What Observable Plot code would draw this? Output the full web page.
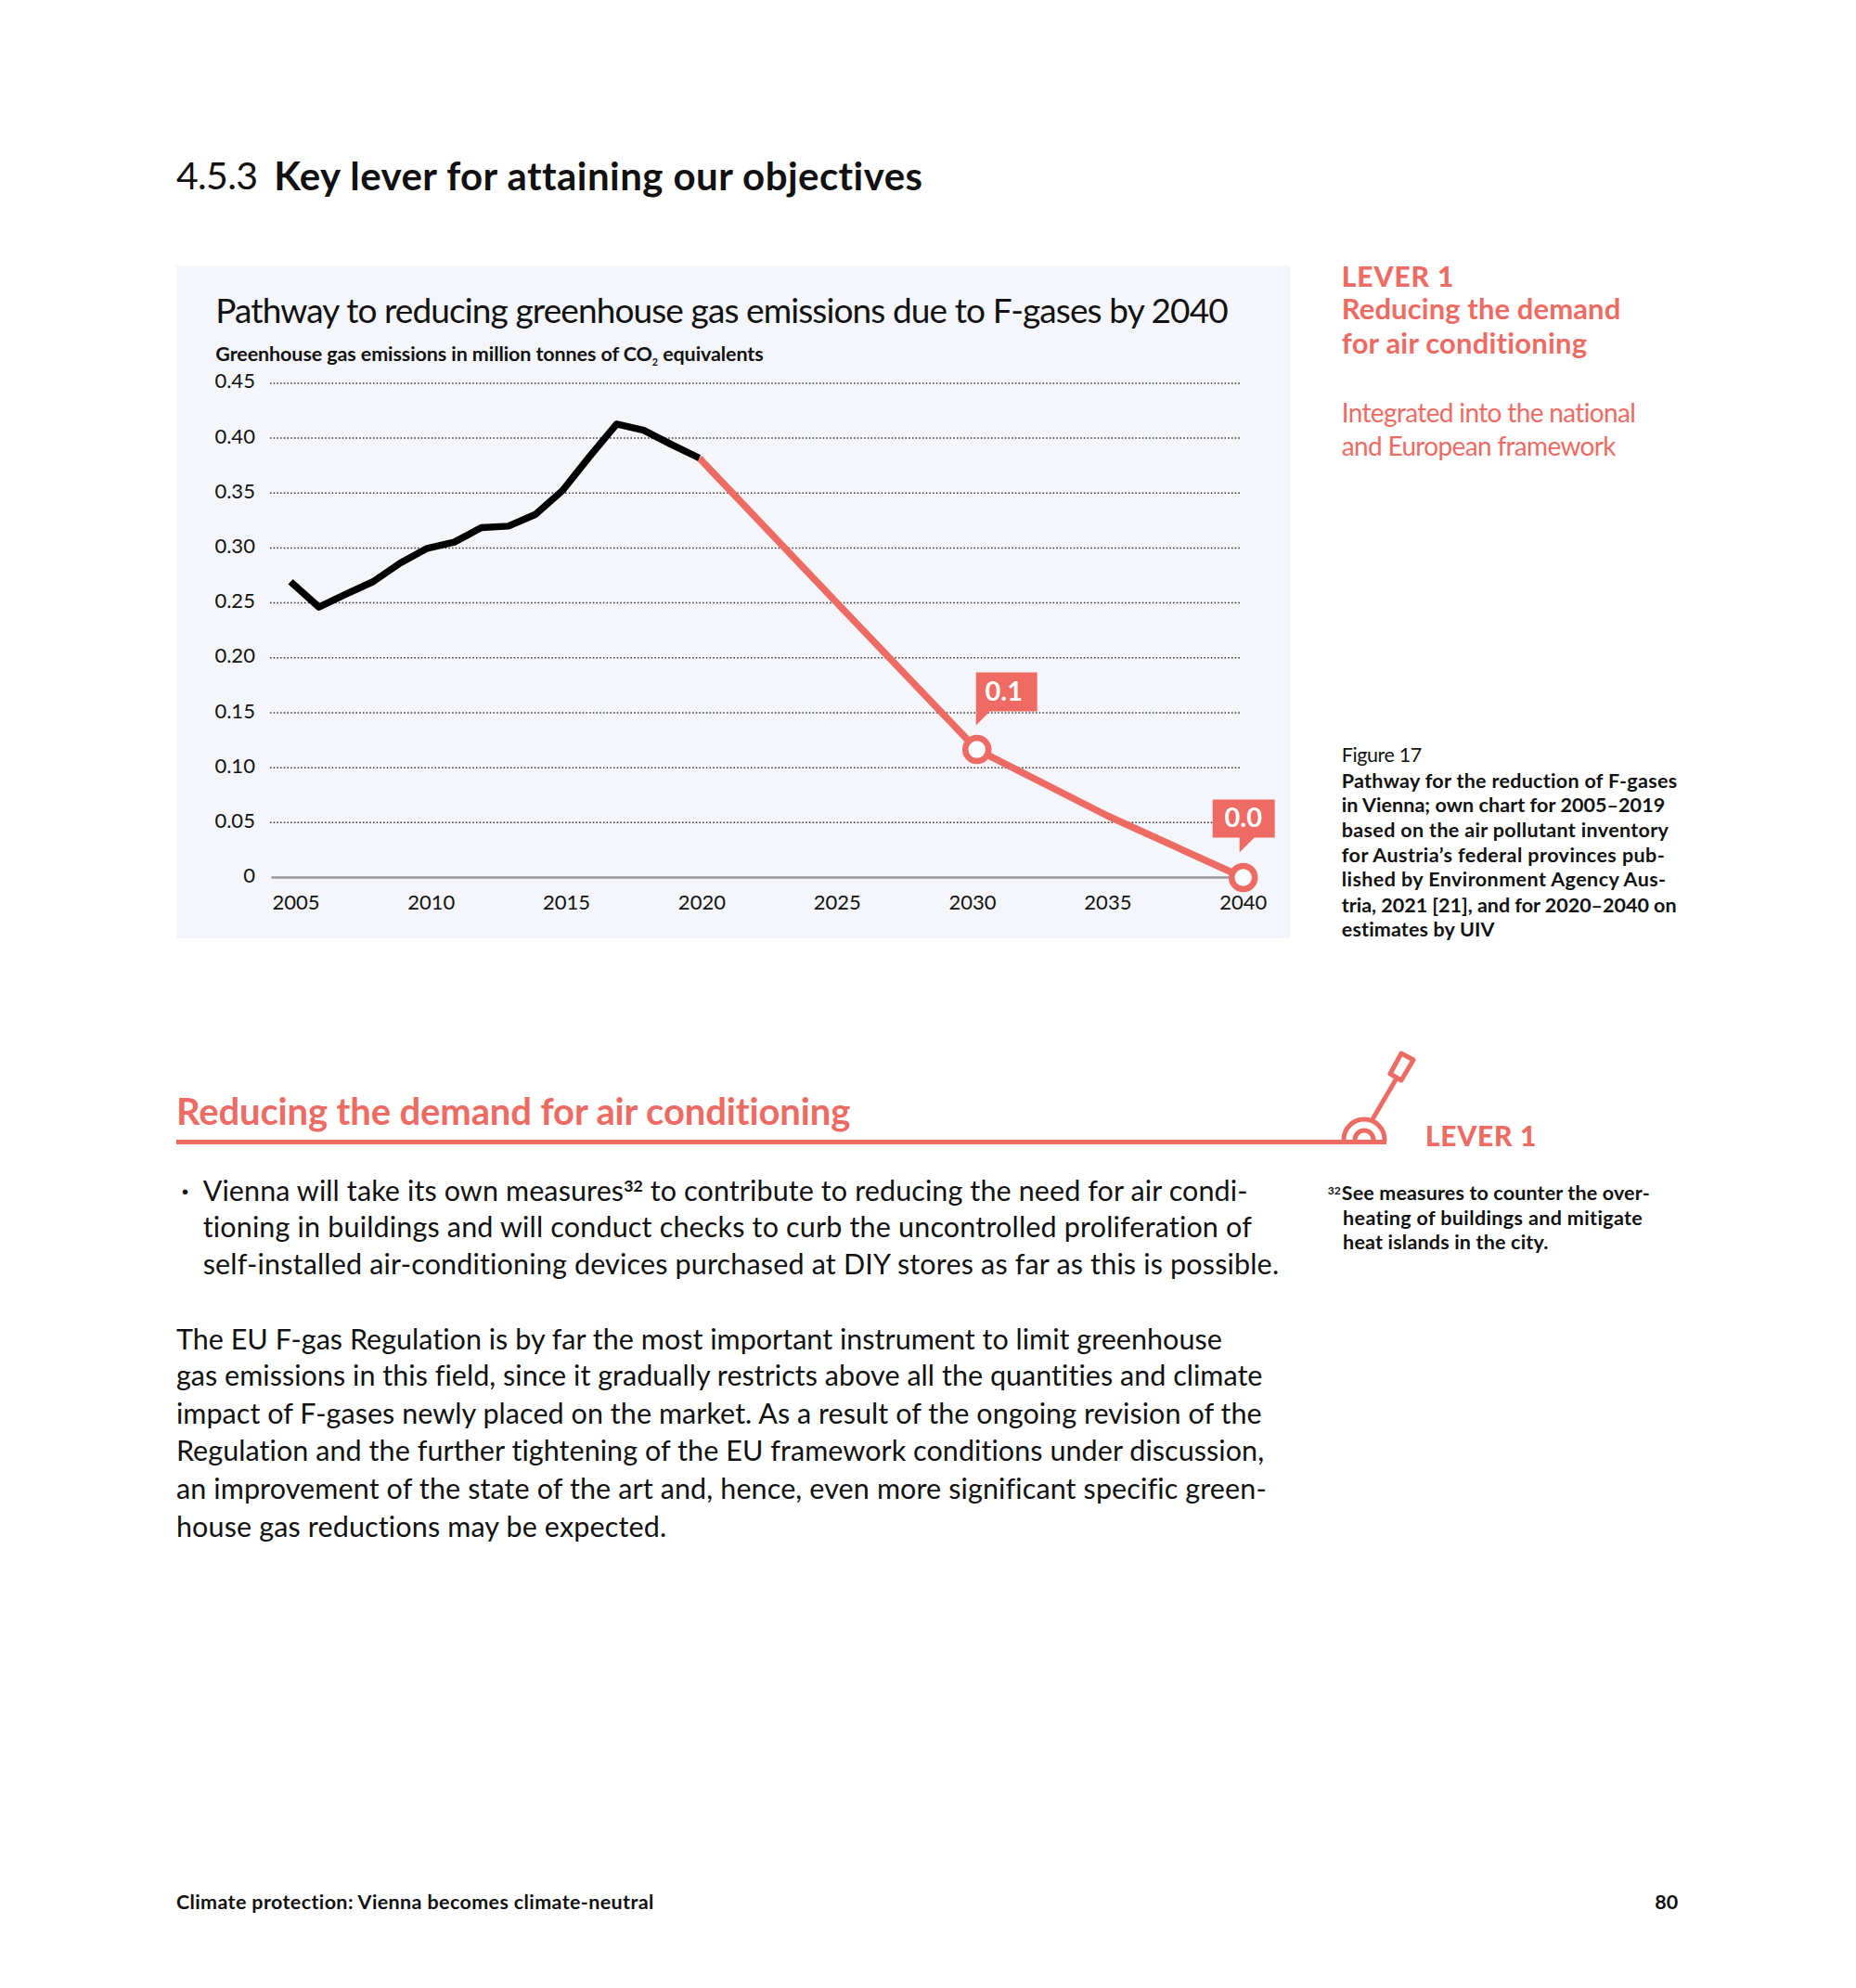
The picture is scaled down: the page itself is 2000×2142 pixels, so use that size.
<!DOCTYPE html>
<html><head><meta charset="utf-8">
<script src="https://cdn.jsdelivr.net/npm/d3@7"></script>
<script src="https://cdn.jsdelivr.net/npm/@observablehq/plot@0.6"></script>
<style>
html,body{margin:0;padding:0;background:#fff;width:2000px;height:2142px;overflow:hidden;font-family:Lato,sans-serif;color:#111}
#page{position:relative;width:2000px;height:2142px}
.t{position:absolute;white-space:nowrap;line-height:1.2;transform:translateY(-50%)}
sup{font-size:58%;line-height:0;vertical-align:baseline;position:relative;top:-.55em;font-weight:700}
sub{font-size:50%;line-height:0;vertical-align:baseline;position:relative;top:.5em}
#chart{position:absolute;left:190px;top:285.6px}
#lever{position:absolute;left:0;top:0;overflow:visible}
</style></head><body><div id="page"><div id="chart"></div>
<svg id="lever" width="2000" height="1300" fill="none" stroke="#ee6b64">
  <path d="M190 1230.5H1494" stroke-width="5"/>
  <path d="M1448 1230V1228a22 22 0 0 1 44 0V1230" stroke-width="5"/>
  <path d="M1460 1230V1228a10 10 0 0 1 20 0V1230" stroke-width="5"/>
  <path d="M1479 1206L1506 1160" stroke-width="5"/>
  <path d="M1510 1135L1523 1142L1510 1164L1498 1157Z" stroke-width="5" stroke-linejoin="round"/>
</svg>
</div>
<script>
const PINK = "#ee6b64", BG = "#f4f6fb", S = 1.3665;
// ---- chart data
const yTicks = [0, 0.05, 0.1, 0.15, 0.2, 0.25, 0.3, 0.35, 0.4, 0.45];
const xTicks = [2005, 2010, 2015, 2020, 2025, 2030, 2035, 2040];
const histYears = [2004.8, 2005.85, 2006.85, 2007.85, 2008.85, 2009.85, 2010.85, 2011.85, 2012.85, 2013.85, 2014.85, 2015.85, 2016.85, 2017.85, 2018.85, 2019.9];
const histValues = [0.2693, 0.2462, 0.258, 0.2693, 0.2862, 0.2997, 0.3053, 0.3185, 0.3199, 0.3306, 0.3523, 0.3833, 0.4128, 0.4072, 0.3945, 0.3819];
const pathYears = [2019.9, 2025, 2030.16, 2035, 2040];
const pathValues = [0.3819, 0.2497, 0.1165, 0.056, 0];
const markerYears = [2030.16, 2040];
const markerValues = [0.1165, 0];
const markerLabels = ["0.1", "0.0"];
const gridStart = 2004.06;

const hist = histYears.map((x, i) => ({x, y: histValues[i]}));
const path = pathYears.map((x, i) => ({x, y: pathValues[i]}));
const poly = pts => ({draw(c){pts.forEach((p,i)=> i? c.lineTo(p[0],p[1]) : c.moveTo(p[0],p[1])); c.closePath();}});
const callout1 = poly([[-1,-83],[65,-83],[65,-41],[14,-41],[-1,-26],[-1,-41]]);
const callout2 = poly([[-33,-84],[34,-84],[34,-43],[12,-43],[-4,-27],[-4,-43],[-33,-43]]);

const chart = Plot.plot({
  width: 1200, height: 725,
  marginLeft: 128.4, marginRight: 50.8, marginTop: 126.4, marginBottom: 66,
  style: {background: BG, fontFamily: "Lato, sans-serif", overflow: "visible", color: "#111"},
  x: {domain: [2005, 2040]},
  y: {domain: [0, 0.45]},
  marks: [
    Plot.axisY({ticks: yTicks, tickSize: 0, tickPadding: 44, fontSize: 22, dy: -1.5, label: null, tickFormat: d => d === 0 ? "0" : d3.format(".2f")(d)}),
    Plot.axisX({ticks: xTicks, tickSize: 0, tickPadding: 19, fontSize: 22, label: null, tickFormat: d => String(d)}),
    Plot.ruleY(yTicks.filter(d => d > 0), {x1: gridStart, x2: 2039.93, stroke: "#333", strokeWidth: 1.5, strokeDasharray: "1.5 2.2"}),
    Plot.ruleY([0], {x1: gridStart + 0.05, x2: 2040, stroke: "#999", strokeWidth: 2.5}),
    Plot.line(path, {x: "x", y: "y", stroke: PINK, strokeWidth: 7.5, strokeLinecap: "butt"}),
    Plot.line(hist, {x: "x", y: "y", stroke: "#000", strokeWidth: 7.5, strokeLinecap: "butt"}),
    Plot.dot([{x: markerYears[0], y: markerValues[0]}], {x: "x", y: "y", symbol: callout1, r: 10, fill: PINK, stroke: "none"}),
    Plot.dot([{x: markerYears[1], y: markerValues[1]}], {x: "x", y: "y", symbol: callout2, r: 10, fill: PINK, stroke: "none"}),
    Plot.dot(markerYears.map((x, i) => ({x, y: markerValues[i]})), {x: "x", y: "y", r: 12.5, fill: "#fafbfd", stroke: PINK, strokeWidth: 6.5}),
    Plot.text([{x: markerYears[0], y: markerValues[0], t: markerLabels[0]}], {x: "x", y: "y", text: "t", dx: 29, dy: -62, fill: "#fff", fontSize: 29, fontWeight: 700}),
    Plot.text([{x: markerYears[1], y: markerValues[1], t: markerLabels[1]}], {x: "x", y: "y", text: "t", dx: 0, dy: -64, fill: "#fff", fontSize: 29, fontWeight: 700})
  ]
});
document.getElementById("chart").appendChild(chart);

// ---- page text: [html, left, right, centre y, size, weight, colour]
const INK = "#111";
const lines = [
  ["4.5.3", 139, 203, 138, 41, 400, INK],
  ["Key lever for attaining our objectives", 216, 727, 138, 42, 700, INK],
  ["Pathway to reducing greenhouse gas emissions due to F-gases by 2040", 170, 968, 244.3, 37, 400, INK],
  ["Greenhouse gas emissions in million tonnes of CO<sub>2</sub> equivalents", 170, 602, 279.2, 21.5, 700, INK],
  ["LEVER 1", 1058, 1147, 217, 30, 900, PINK],
  ["Reducing the demand", 1058, 1278, 244, 31, 700, PINK],
  ["for air conditioning", 1058, 1252, 271, 31, 700, PINK],
  ["Integrated into the national", 1058, 1290, 326, 28, 400, PINK],
  ["and European framework", 1058, 1274, 352, 28, 400, PINK],
  ["Figure 17", 1058, 1121, 596, 21.5, 400, INK],
  ["Pathway for the reduction of F-gases", 1058, 1323, 616, 21.5, 700, INK],
  ["in Vienna; own chart for 2005–2019", 1058, 1313, 635.5, 21.5, 700, INK],
  ["based on the air pollutant inventory", 1058, 1316, 655, 21.5, 700, INK],
  ["for Austria’s federal provinces pub-", 1058, 1313, 675, 21.5, 700, INK],
  ["lished by Environment Agency Aus-", 1058, 1314, 694, 21.5, 700, INK],
  ["tria, 2021 [21], and for 2020–2040 on", 1058, 1322, 714, 21.5, 700, INK],
  ["estimates by UIV", 1058, 1179, 733.5, 21.5, 700, INK],
  ["Reducing the demand for air conditioning", 139, 671, 876, 40, 700, PINK],
  ["LEVER 1", 1124, 1212, 895, 30, 900, PINK],
  ["·", 143, 149, 938, 29, 700, INK],
  ["Vienna will take its own measures<sup>32</sup> to contribute to reducing the need for air condi-", 160, 984, 938, 30.5, 400, INK],
  ["tioning in buildings and will conduct checks to curb the uncontrolled proliferation of", 160, 988, 967, 30.5, 400, INK],
  ["self-installed air-conditioning devices purchased at DIY stores as far as this is possible.", 160, 1009, 996, 30.5, 400, INK],
  ["The EU F-gas Regulation is by far the most important instrument to limit greenhouse", 139, 964, 1055, 30.5, 400, INK],
  ["gas emissions in this field, since it gradually restricts above all the quantities and climate", 139, 996, 1084, 30.5, 400, INK],
  ["impact of F-gases newly placed on the market. As a result of the ongoing revision of the", 139, 995, 1114, 30.5, 400, INK],
  ["Regulation and the further tightening of the EU framework conditions under discussion,", 139, 998, 1143, 30.5, 400, INK],
  ["an improvement of the state of the art and, hence, even more significant specific green-", 139, 998, 1173, 30.5, 400, INK],
  ["house gas reductions may be expected.", 139, 526, 1203, 30.5, 400, INK],
  ["<sup>32</sup>", 1047, 1057, 941, 21, 700, INK],
  ["See measures to counter the over-", 1058, 1301, 941, 21.5, 700, INK],
  ["heating of buildings and mitigate", 1059, 1296, 960.5, 21.5, 700, INK],
  ["heat islands in the city.", 1059, 1221, 980, 21.5, 700, INK],
  ["Climate protection: Vienna becomes climate-neutral", 139, 516, 1500, 21.5, 700, INK],
  ["80", 1305, 1324, 1500, 21.5, 700, INK]
];
const page = document.getElementById("page");
for (const [html, x1, x2, y, size, weight, color] of lines) {
  const d = document.createElement("div");
  d.className = "t"; d.innerHTML = html;
  d.style.cssText = `left:${x1*S}px;top:${y*S}px;font-size:${size}px;font-weight:${weight};color:${color}`;
  page.appendChild(d);
  const w = d.getBoundingClientRect().width, n = d.textContent.length;
  if (n > 2) d.style.letterSpacing = ((x2 - x1) * S - w) / n + "px";
}
</script></body></html>
